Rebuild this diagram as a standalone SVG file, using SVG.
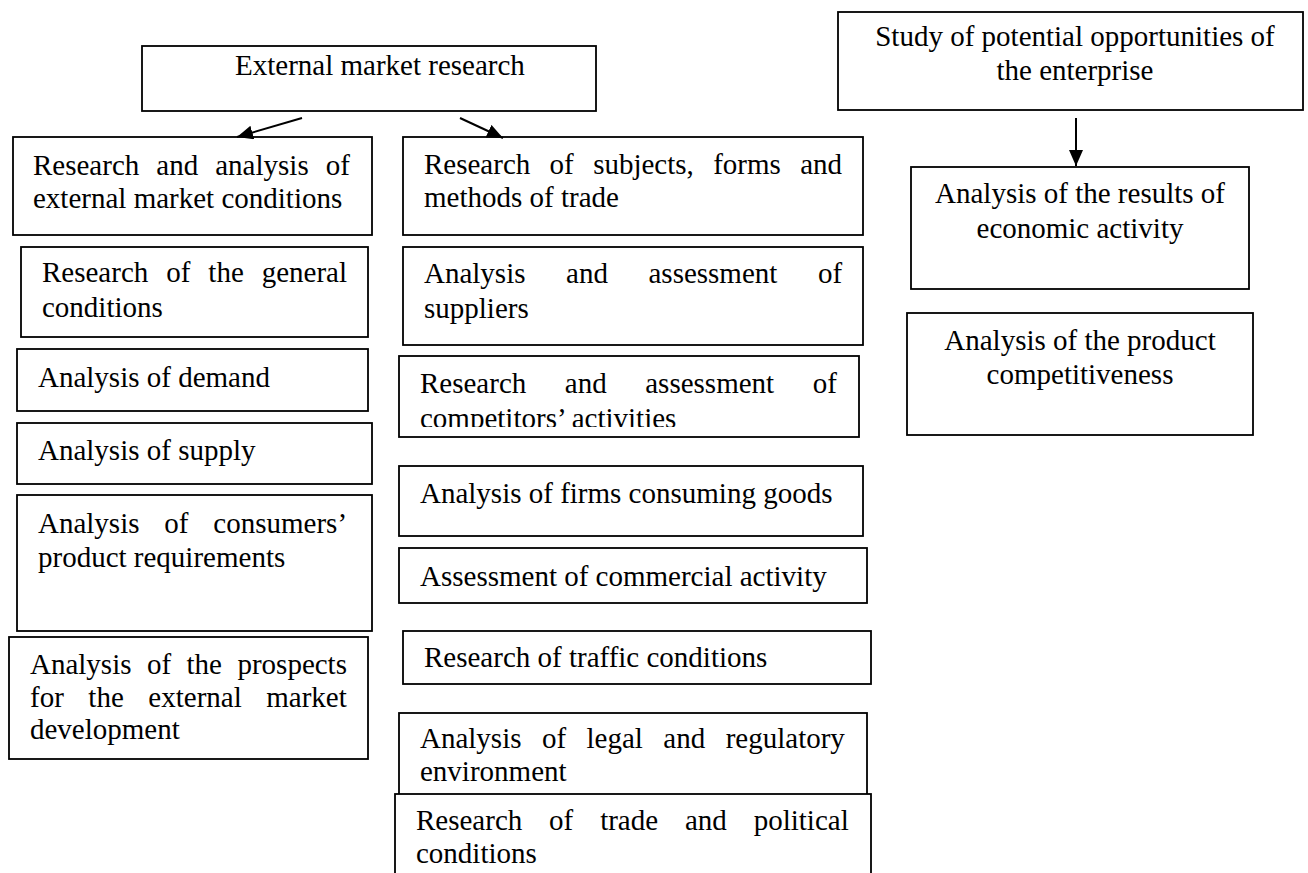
<svg xmlns="http://www.w3.org/2000/svg" width="1308" height="873" viewBox="0 0 1308 873">
  <style>
    .box { fill: #fff; stroke: #000; stroke-width: 1.8; }
    .t { font-family: "Liberation Serif", "Times New Roman", serif; font-size: 29px; fill: #000; }
    .mid { text-anchor: middle; }
    .link { stroke: #000; stroke-width: 2; fill: none; }
  </style>
  <defs>
    <marker id="arrow" markerUnits="userSpaceOnUse" markerWidth="18" markerHeight="14" refX="16" refY="7" orient="auto">
      <path d="M0,0 L16,7 L0,14 Z" fill="#000"/>
    </marker>
    <clipPath id="clip-competitors">
      <rect x="399" y="356" width="460" height="71"/>
    </clipPath>
  </defs>
  <rect width="1308" height="873" fill="#fff"/>

  <!-- Top-level headings -->
  <g id="external-market-research">
    <rect class="box" x="142" y="46" width="454" height="65"/>
    <text class="t" x="235" y="75">External market research</text>
  </g>
  <g id="potential-opportunities">
    <rect class="box" x="838" y="12" width="465" height="98"/>
    <text class="t mid" x="1075" y="46">Study of potential opportunities of</text>
    <text class="t mid" x="1075" y="80">the enterprise</text>
  </g>

  <!-- Left column -->
  <g id="market-conditions">
    <rect class="box" x="13" y="137" width="359" height="98"/>
    <text class="t" x="33" y="175" word-spacing="9.8">Research and analysis of</text>
    <text class="t" x="33" y="208">external market conditions</text>
  </g>
  <g id="general-conditions">
    <rect class="box" x="21" y="247" width="347" height="90"/>
    <text class="t" x="42" y="282" word-spacing="10.7">Research of the general</text>
    <text class="t" x="42" y="317">conditions</text>
  </g>
  <g id="demand">
    <rect class="box" x="17" y="349" width="351" height="62"/>
    <text class="t" x="38" y="387">Analysis of demand</text>
  </g>
  <g id="supply">
    <rect class="box" x="17" y="423" width="355" height="61"/>
    <text class="t" x="38" y="460">Analysis of supply</text>
  </g>
  <g id="consumer-requirements">
    <rect class="box" x="17" y="495" width="355" height="136"/>
    <text class="t" x="38" y="533" word-spacing="17.6">Analysis of consumers’</text>
    <text class="t" x="38" y="567">product requirements</text>
  </g>
  <g id="market-prospects">
    <rect class="box" x="9" y="637" width="359" height="122"/>
    <text class="t" x="30" y="674" word-spacing="8.2">Analysis of the prospects</text>
    <text class="t" x="30" y="707" word-spacing="17.3">for the external market</text>
    <text class="t" x="30" y="739">development</text>
  </g>

  <!-- Middle column -->
  <g id="trade-methods">
    <rect class="box" x="403" y="137" width="460" height="98"/>
    <text class="t" x="424" y="174" word-spacing="12.1">Research of subjects, forms and</text>
    <text class="t" x="424" y="207">methods of trade</text>
  </g>
  <g id="suppliers">
    <rect class="box" x="403" y="247" width="460" height="98"/>
    <text class="t" x="424" y="283" word-spacing="33.3">Analysis and assessment of</text>
    <text class="t" x="424" y="318">suppliers</text>
  </g>
  <g id="competitors">
    <rect class="box" x="399" y="356" width="460" height="81"/>
    <g clip-path="url(#clip-competitors)">
      <text class="t" x="420" y="393" word-spacing="31.3">Research and assessment of</text>
      <text class="t" x="420" y="428">competitors’ activities</text>
    </g>
  </g>
  <g id="consuming-firms">
    <rect class="box" x="399" y="466" width="464" height="70"/>
    <text class="t" x="420" y="503">Analysis of firms consuming goods</text>
  </g>
  <g id="commercial-activity">
    <rect class="box" x="399" y="548" width="468" height="55"/>
    <text class="t" x="420" y="586">Assessment of commercial activity</text>
  </g>
  <g id="traffic-conditions">
    <rect class="box" x="403" y="631" width="468" height="53"/>
    <text class="t" x="424" y="667">Research of traffic conditions</text>
  </g>
  <g id="legal-environment">
    <rect class="box" x="399" y="713" width="468" height="82"/>
    <text class="t" x="420" y="748" word-spacing="13.2">Analysis of legal and regulatory</text>
    <text class="t" x="420" y="781">environment</text>
  </g>
  <g id="trade-political">
    <rect class="box" x="395" y="794" width="476" height="100"/>
    <text class="t" x="416" y="830" word-spacing="19.6">Research of trade and political</text>
    <text class="t" x="416" y="863">conditions</text>
  </g>

  <!-- Right column -->
  <g id="economic-results">
    <rect class="box" x="911" y="167" width="338" height="122"/>
    <text class="t mid" x="1080" y="203">Analysis of the results of</text>
    <text class="t mid" x="1080" y="238">economic activity</text>
  </g>
  <g id="competitiveness">
    <rect class="box" x="907" y="313" width="346" height="122"/>
    <text class="t mid" x="1080" y="350">Analysis of the product</text>
    <text class="t mid" x="1080" y="384">competitiveness</text>
  </g>

  <!-- Connectors -->
  <g id="connectors">
    <line class="link" x1="302" y1="118" x2="237" y2="137" marker-end="url(#arrow)"/>
    <line class="link" x1="460" y1="118" x2="503" y2="138" marker-end="url(#arrow)"/>
    <line class="link" x1="1076" y1="118" x2="1076" y2="166" marker-end="url(#arrow)"/>
  </g>
</svg>
